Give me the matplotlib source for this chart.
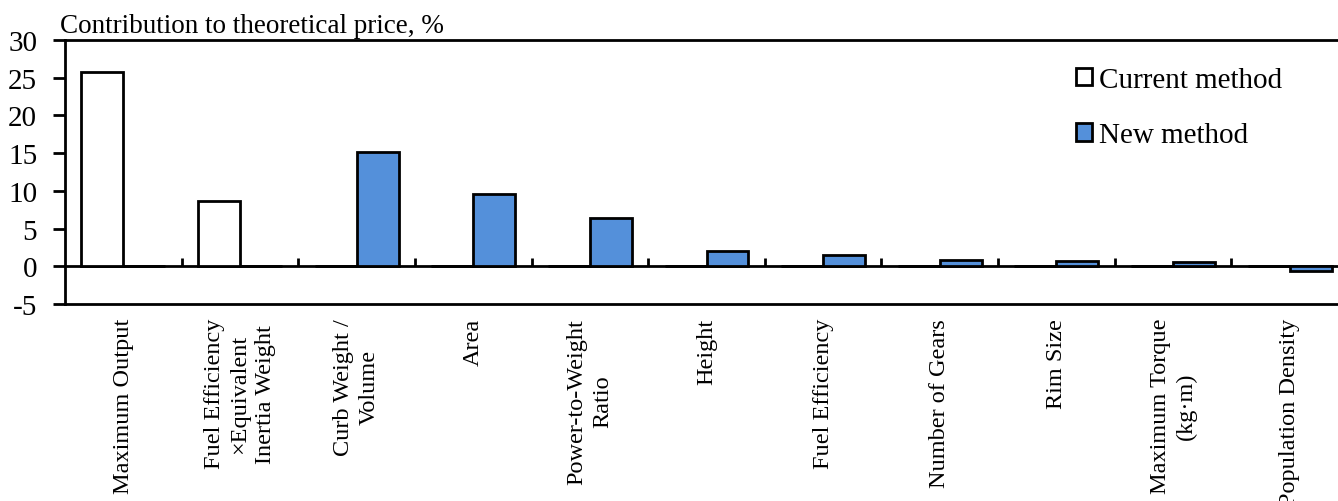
import numpy as np
import matplotlib
matplotlib.use('Agg')
import matplotlib.pyplot as plt

plt.rcParams['font.family'] = ['Liberation Serif', 'DejaVu Serif']

categories = ['Maximum Output',
              'Fuel Efficiency\n×Equivalent\nInertia Weight',
              'Curb Weight /\nVolume',
              'Area',
              'Power-to-Weight\nRatio',
              'Height',
              'Fuel Efficiency',
              'Number of Gears',
              'Rim Size',
              'Maximum Torque\n(kg·m)',
              'Population Density']
current_method = [25.7, 8.6, 0, 0, 0, 0, 0, 0, 0, 0, 0]
new_method = [0, 0, 15.2, 9.6, 6.4, 2.0, 1.5, 0.85, 0.7, 0.55, -0.6]
yticks = [-5, 0, 5, 10, 15, 20, 25, 30]

blue = '#5490DA'
lw = 2.0

fig = plt.figure(figsize=(13.38, 5.02), dpi=100)
ax = fig.add_axes([65/1338, 1 - 305/502, 1283/1338, 264/502])

x = np.arange(len(categories))
w = 0.36
ax.bar(x - w/2, current_method, width=w, color='white', edgecolor='black',
       linewidth=lw, label='Current method', zorder=3)
ax.bar(x + w/2, new_method, width=w, color=blue, edgecolor='black',
       linewidth=lw, label='New method', zorder=3)

ax.set_xlim(-0.5, len(categories) - 0.5)
ax.set_ylim(-5, 30)
ax.set_yticks(yticks)
ax.set_yticklabels([str(v) for v in yticks], fontsize=21)
ax.tick_params(axis='y', direction='out', length=9, width=lw, pad=11)

ax.set_xticks(x)
ax.set_xticklabels(categories, rotation=90, fontsize=17.5,
                   multialignment='center', linespacing=1.3)
ax.tick_params(axis='x', length=0, pad=10)

for s in ['top', 'bottom', 'left']:
    ax.spines[s].set_linewidth(lw)
ax.spines['right'].set_visible(False)

# zero line with category separators
zero_ax = ax.secondary_xaxis(5 / 35)
zero_ax.set_xticks(np.arange(0.5, len(categories) - 0.5, 1.0))
zero_ax.set_xticklabels([])
zero_ax.tick_params(direction='in', length=6, width=lw)
zero_ax.spines['bottom'].set_linewidth(lw)

fig.text(60/1338, 1 - 33/502, 'Contribution to theoretical price, %',
         fontsize=19.5, va='baseline', ha='left')

fig.legend(loc='upper left', bbox_to_anchor=(1076/1338, 1 - 68/502),
           frameon=False, fontsize=21, handlelength=0.55, handleheight=0.55,
           handletextpad=0.25, labelspacing=1.0, borderpad=0, borderaxespad=0)

fig.savefig('out.png', dpi=100)
